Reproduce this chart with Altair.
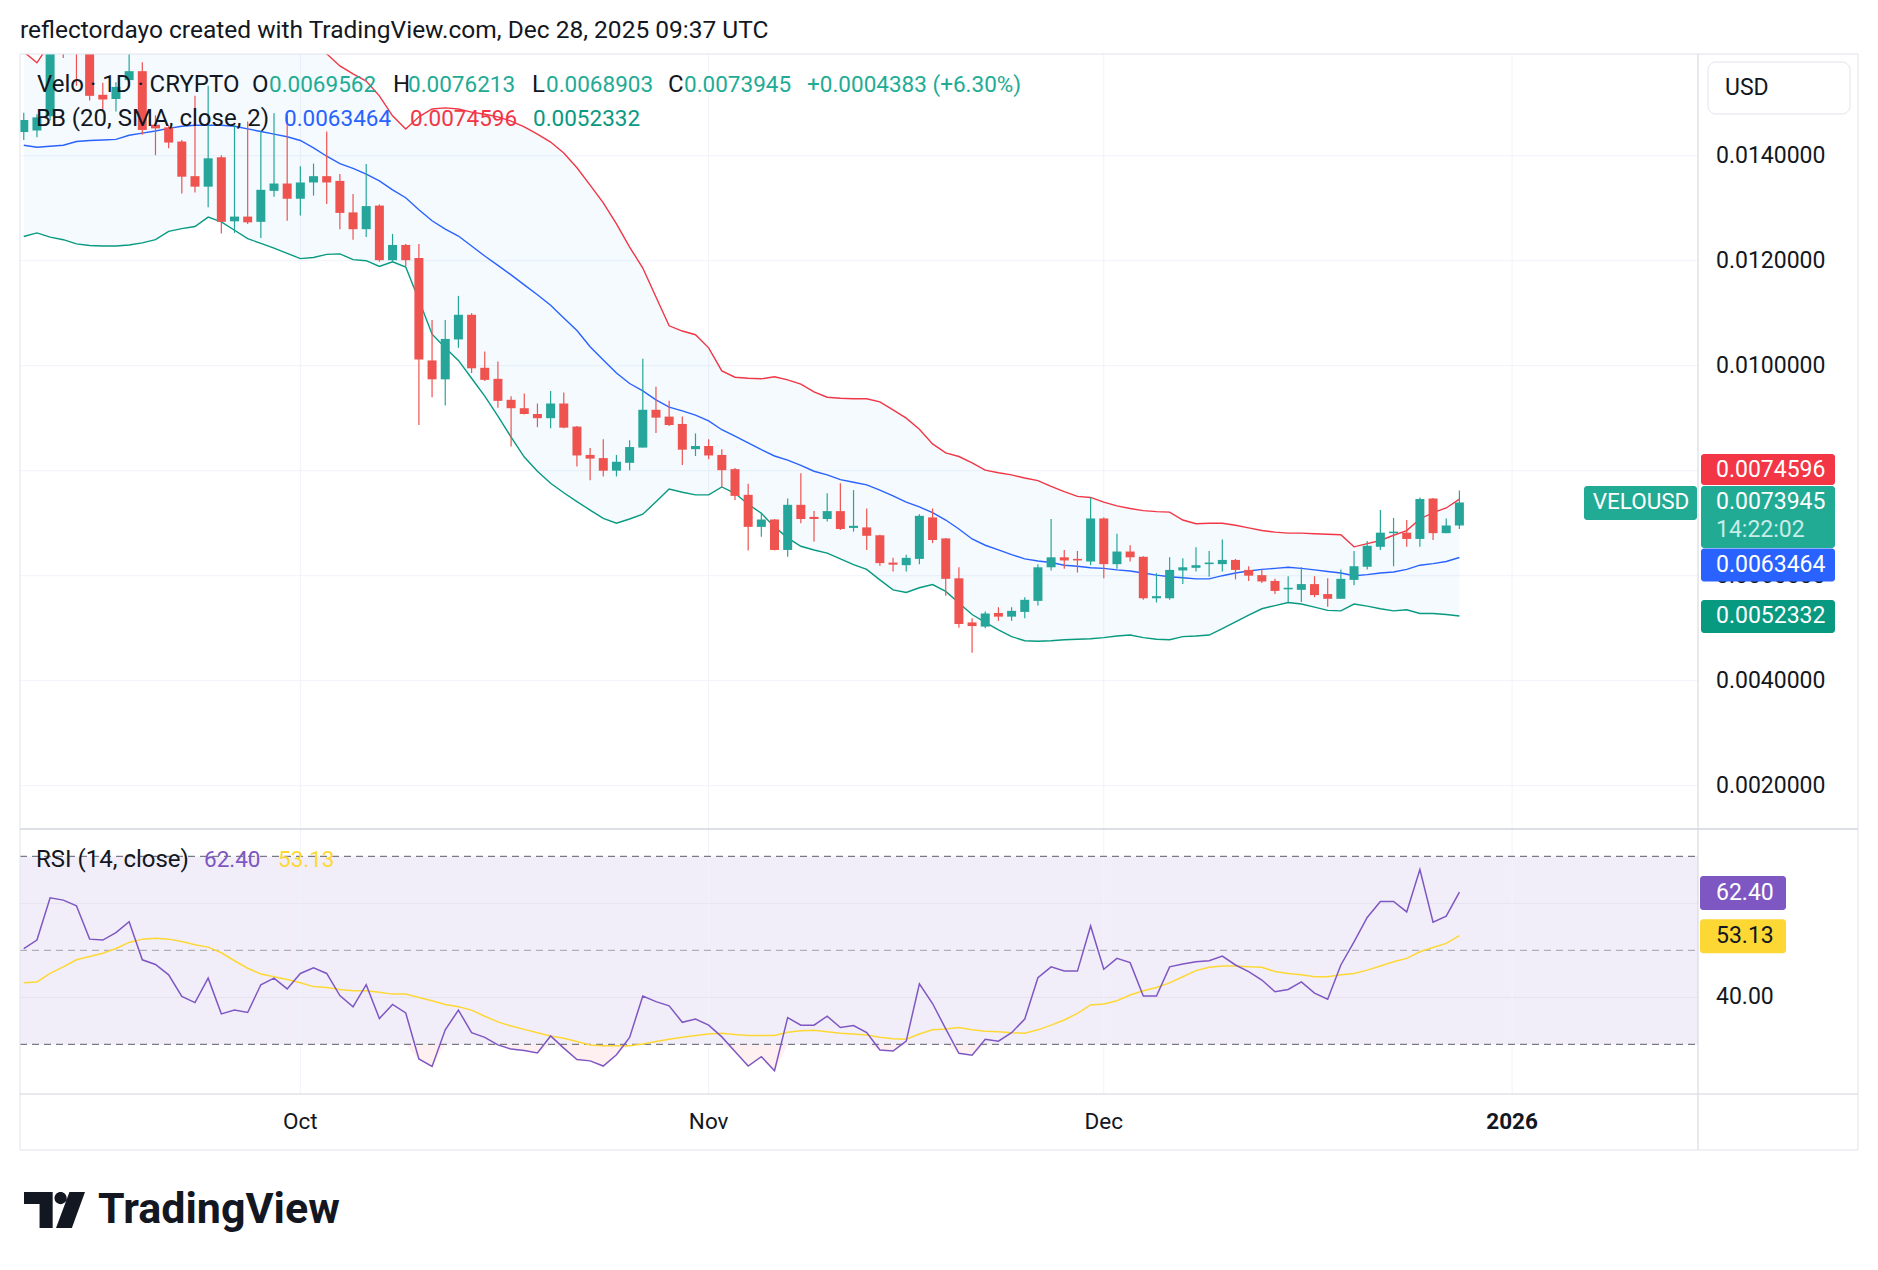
import altair as alt
import pandas as pd

# ---------------- data ----------------
START, END = "2025-09-10", "2025-12-28"

open_ = [0.01445, 0.01448, 0.01475, 0.01648, 0.01622, 0.01600, 0.01516, 0.01508, 0.01544, 0.01561, 0.01459,
         0.01454, 0.01427, 0.01361, 0.01341, 0.01397, 0.01275, 0.01284, 0.01274, 0.01333, 0.01347,
         0.01318, 0.01349, 0.01361, 0.01352, 0.01292, 0.01260, 0.01305, 0.01201, 0.01230, 0.01205, 0.01010,
         0.00974, 0.01050, 0.01097, 0.00996, 0.00975, 0.00935, 0.00919, 0.00908, 0.00900, 0.00928, 0.00884,
         0.00830, 0.00824, 0.00800, 0.00815, 0.00844, 0.00916, 0.00903, 0.00889, 0.00841,
         0.00847, 0.00830, 0.00803, 0.00754, 0.00693, 0.00707, 0.00649, 0.00735, 0.00712, 0.00708, 0.00723,
         0.00691, 0.00692, 0.00677, 0.00625, 0.00620, 0.00632, 0.00711, 0.00671, 0.00595, 0.00511, 0.00503,
         0.00529, 0.00522, 0.00531, 0.00552, 0.00616, 0.00635, 0.00632, 0.00627,
         0.00709, 0.00622, 0.00646, 0.00636, 0.00557, 0.00557, 0.00610, 0.00615, 0.00622, 0.00622, 0.00630,
         0.00611, 0.00601, 0.00590, 0.00574, 0.00573, 0.00584, 0.00565, 0.00556, 0.00592, 0.00617, 0.00655,
         0.00681, 0.00682, 0.00670, 0.00747, 0.00681, 0.0069562]
high = [0.01482, 0.01479, 0.01665, 0.01690, 0.01655, 0.01612, 0.01539, 0.01540, 0.01610, 0.01578, 0.01477,
        0.01457, 0.01430, 0.01514, 0.01533, 0.01401, 0.01458, 0.01465, 0.01446, 0.01481, 0.01478,
        0.01380, 0.01385, 0.01446, 0.01365, 0.01327, 0.01384, 0.01307, 0.01251, 0.01232, 0.01232, 0.01087,
        0.01087, 0.01133, 0.01100, 0.01027, 0.01008, 0.00942, 0.00947, 0.00928, 0.00952, 0.00949, 0.00885,
        0.00843, 0.00860, 0.00830, 0.00858, 0.01013, 0.00960, 0.00933, 0.00903, 0.00871,
        0.00860, 0.00841, 0.00805, 0.00775, 0.00720, 0.00708, 0.00747, 0.00795, 0.00723, 0.00757, 0.00776,
        0.00763, 0.00728, 0.00678, 0.00634, 0.00640, 0.00717, 0.00728, 0.00672, 0.00616, 0.00519, 0.00532,
        0.00540, 0.00540, 0.00559, 0.00622, 0.00708, 0.00649, 0.00647, 0.00749,
        0.00711, 0.00680, 0.00658, 0.00637, 0.00605, 0.00635, 0.00633, 0.00654, 0.00647, 0.00669, 0.00632,
        0.00618, 0.00612, 0.00594, 0.00599, 0.00616, 0.00599, 0.00595, 0.00612, 0.00647, 0.00666, 0.00725,
        0.00710, 0.00706, 0.00749, 0.00748, 0.00709, 0.0076213]
low = [0.01430, 0.01435, 0.01467, 0.01586, 0.01533, 0.01505, 0.01487, 0.01484, 0.01530, 0.01440, 0.01401,
       0.01414, 0.01328, 0.01330, 0.01302, 0.01252, 0.01253, 0.01270, 0.01243, 0.01322, 0.01276,
       0.01286, 0.01324, 0.01308, 0.01260, 0.01240, 0.01245, 0.01198, 0.01198, 0.01189, 0.00887, 0.00940,
       0.00924, 0.01034, 0.00986, 0.00971, 0.00920, 0.00846, 0.00907, 0.00883, 0.00881, 0.00881, 0.00808,
       0.00782, 0.00789, 0.00789, 0.00801, 0.00844, 0.00872, 0.00885, 0.00811, 0.00828,
       0.00822, 0.00768, 0.00744, 0.00648, 0.00674, 0.00648, 0.00636, 0.00700, 0.00665, 0.00703, 0.00687,
       0.00684, 0.00649, 0.00619, 0.00608, 0.00608, 0.00622, 0.00662, 0.00562, 0.00501, 0.00453, 0.00500,
       0.00514, 0.00514, 0.00519, 0.00543, 0.00610, 0.00613, 0.00606, 0.00620,
       0.00595, 0.00613, 0.00627, 0.00554, 0.00549, 0.00554, 0.00584, 0.00608, 0.00598, 0.00608, 0.00593,
       0.00590, 0.00586, 0.00565, 0.00550, 0.00550, 0.00559, 0.00541, 0.00556, 0.00582, 0.00612, 0.00649,
       0.00618, 0.00655, 0.00655, 0.00668, 0.00681, 0.0068903]
close = [0.01468, 0.01473, 0.01648, 0.01622, 0.01600, 0.01514, 0.01507, 0.01531, 0.01561, 0.01449, 0.01452,
         0.01425, 0.01360, 0.01341, 0.01395, 0.01274, 0.01284, 0.01273, 0.01335, 0.01347, 0.01318,
         0.01349, 0.01361, 0.01349, 0.01291, 0.01260, 0.01304, 0.01201, 0.01230, 0.01201, 0.01012, 0.00974,
         0.01051, 0.01097, 0.00995, 0.00973, 0.00933, 0.00919, 0.00908, 0.00900, 0.00928, 0.00882, 0.00829,
         0.00823, 0.00800, 0.00817, 0.00845, 0.00916, 0.00901, 0.00887, 0.00840, 0.00847,
         0.00829, 0.00801, 0.00752, 0.00693, 0.00707, 0.00649, 0.00735, 0.00708, 0.00708, 0.00723, 0.00689,
         0.00695, 0.00676, 0.00624, 0.00621, 0.00634, 0.00714, 0.00668, 0.00594, 0.00508, 0.00504, 0.00528,
         0.00522, 0.00533, 0.00554, 0.00616, 0.00635, 0.00629, 0.00629, 0.00709,
         0.00622, 0.00646, 0.00635, 0.00557, 0.00561, 0.00611, 0.00616, 0.00620, 0.00625, 0.00630, 0.00611,
         0.00600, 0.00589, 0.00571, 0.00577, 0.00584, 0.00563, 0.00556, 0.00594, 0.00618, 0.00657, 0.00682,
         0.00684, 0.00670, 0.00746, 0.00681, 0.0069562, 0.0073945]

bb_upper = [0.01598, 0.01577, 0.01615, 0.01645, 0.01668, 0.01685, 0.01695, 0.01702, 0.01712, 0.01716, 0.01718,
            0.01716, 0.01712, 0.01706, 0.01700, 0.01692, 0.01680, 0.01668, 0.01655, 0.01642, 0.01630,
            0.01618, 0.01606, 0.01594, 0.01571, 0.01556, 0.01542, 0.01514, 0.01476, 0.01451, 0.01474, 0.01489,
            0.01491, 0.01489, 0.01483, 0.01479, 0.01474, 0.01466, 0.01455, 0.01441, 0.01426, 0.01405, 0.01377,
            0.01344, 0.01310, 0.01270, 0.01226, 0.01186, 0.01131, 0.01076, 0.01066, 0.01059,
            0.01034, 0.00990, 0.00978, 0.00976, 0.00975, 0.00979, 0.00973, 0.00965, 0.00950, 0.00940, 0.00938,
            0.00937, 0.00937, 0.00931, 0.00916, 0.00900, 0.00879, 0.00851, 0.00834, 0.00827, 0.00815, 0.00801,
            0.00796, 0.00792, 0.00786, 0.00781, 0.00770, 0.00760, 0.00751, 0.00749,
            0.00740, 0.00733, 0.00728, 0.00724, 0.00722, 0.00721, 0.00706, 0.00699, 0.00700, 0.00700, 0.00696,
            0.00691, 0.00686, 0.00683, 0.00681, 0.00681, 0.00680, 0.00679, 0.00678, 0.00655, 0.00661, 0.00667,
            0.00677, 0.00686, 0.00708, 0.00720, 0.00729, 0.0074596]
bb_basis = [0.01420, 0.01416, 0.01418, 0.01420, 0.01427, 0.01429, 0.01430, 0.01431, 0.01439, 0.01443, 0.01447,
            0.01452, 0.01456, 0.01458, 0.01458, 0.01458, 0.01456, 0.01451, 0.01446, 0.01441, 0.01436,
            0.01429, 0.01415, 0.01399, 0.01385, 0.01376, 0.01365, 0.01352, 0.01335, 0.01320, 0.01297, 0.01276,
            0.01260, 0.01247, 0.01228, 0.01209, 0.01191, 0.01173, 0.01154, 0.01135, 0.01115, 0.01091, 0.01067,
            0.01036, 0.01011, 0.00986, 0.00966, 0.00952, 0.00935, 0.00921, 0.00914, 0.00906,
            0.00895, 0.00878, 0.00866, 0.00853, 0.00840, 0.00828, 0.00820, 0.00810, 0.00799, 0.00792, 0.00783,
            0.00778, 0.00773, 0.00763, 0.00752, 0.00740, 0.00731, 0.00720, 0.00706, 0.00689, 0.00670, 0.00658,
            0.00649, 0.00640, 0.00632, 0.00628, 0.00625, 0.00620, 0.00618, 0.00615,
            0.00614, 0.00611, 0.00609, 0.00605, 0.00601, 0.00598, 0.00596, 0.00594, 0.00594, 0.00600, 0.00605,
            0.00609, 0.00612, 0.00614, 0.00616, 0.00614, 0.00611, 0.00608, 0.00605, 0.00600, 0.00602, 0.00605,
            0.00607, 0.00612, 0.00620, 0.00623, 0.00627, 0.0063464]
bb_lower = [0.01246, 0.01253, 0.01245, 0.01240, 0.01232, 0.01229, 0.01228, 0.01228, 0.01230, 0.01234, 0.01240,
            0.01256, 0.01261, 0.01265, 0.01283, 0.01274, 0.01258, 0.01242, 0.01233, 0.01224, 0.01214,
            0.01204, 0.01206, 0.01212, 0.01213, 0.01202, 0.01200, 0.01189, 0.01198, 0.01188, 0.01125, 0.01060,
            0.01034, 0.01010, 0.00976, 0.00942, 0.00904, 0.00864, 0.00826, 0.00799, 0.00776, 0.00758, 0.00741,
            0.00725, 0.00709, 0.00700, 0.00708, 0.00717, 0.00741, 0.00765, 0.00759, 0.00754,
            0.00754, 0.00769, 0.00757, 0.00736, 0.00719, 0.00693, 0.00672, 0.00656, 0.00649, 0.00643, 0.00632,
            0.00621, 0.00612, 0.00592, 0.00573, 0.00568, 0.00577, 0.00583, 0.00570, 0.00548, 0.00526, 0.00511,
            0.00497, 0.00484, 0.00476, 0.00475, 0.00476, 0.00478, 0.00479, 0.00480,
            0.00482, 0.00485, 0.00487, 0.00482, 0.00479, 0.00478, 0.00484, 0.00485, 0.00487, 0.00499, 0.00512,
            0.00525, 0.00537, 0.00543, 0.00549, 0.00546, 0.00540, 0.00534, 0.00533, 0.00546, 0.00542, 0.00537,
            0.00533, 0.00535, 0.00528, 0.00528, 0.00526, 0.0052332]

rsi = [50.4, 52.2, 61.2, 60.7, 59.5, 52.4, 52.2, 53.8, 56.1, 48.0, 47.0, 44.8, 40.2, 38.9, 44.1, 36.5, 37.3,
       36.8, 42.7, 44.1, 41.8,
       45.1, 46.3, 45.1, 40.4, 38.0, 42.7, 35.5, 38.5, 36.7, 26.9, 25.3, 33.1, 37.3, 32.5, 31.5, 29.9, 29.0,
       28.7, 28.2, 31.8, 29.2, 26.8, 26.5, 25.4, 27.8, 31.5, 40.3, 39.1, 38.2, 34.7, 35.4,
       34.1, 31.6, 28.5, 25.4, 27.4, 24.4, 35.7, 34.1, 34.1, 36.0, 33.6, 34.0, 32.5, 28.8, 28.6, 30.7, 42.9,
       38.7, 33.3, 28.1, 27.7, 31.1, 30.7, 32.5, 35.4, 44.2, 46.5, 45.6, 45.6, 55.2,
       46.0, 48.3, 47.4, 40.3, 40.3, 46.5, 47.1, 47.6, 47.8, 48.8, 46.9, 45.5, 43.7, 41.2, 41.7, 43.3, 40.9,
       39.6, 46.9, 51.8, 57.0, 60.4, 60.4, 58.2, 67.2, 56.0, 57.3, 62.40]
rsi_ma = [43.1, 43.3, 45.1, 46.5, 48.0, 48.7, 49.4, 50.4, 51.7, 52.4, 52.6, 52.4, 51.9, 51.2, 50.7, 49.5, 47.8,
          46.2, 45.0, 44.4, 43.8,
          43.1, 42.3, 42.1, 41.7, 41.4, 41.4, 41.1, 40.7, 40.7, 40.0, 39.3, 38.5, 38.0, 37.3, 36.0, 34.8, 33.9,
          33.2, 32.5, 31.8, 31.3, 30.6, 29.9, 29.7, 29.7, 29.7, 30.1, 30.6, 31.1, 31.5, 31.9,
          32.2, 32.4, 32.1, 31.9, 31.9, 31.9, 32.6, 32.9, 33.0, 32.7, 32.4, 32.2, 32.0, 31.5, 31.2, 31.1, 32.2,
          33.1, 33.3, 33.6, 33.1, 32.8, 32.7, 32.5, 32.4, 33.1, 34.1, 35.2, 36.6, 38.4,
          38.6, 39.3, 40.5, 41.4, 42.1, 43.1, 44.4, 45.7, 46.4, 46.7, 46.7, 46.5, 46.4, 45.5, 45.1, 44.8, 44.4,
          44.4, 44.8, 45.1, 45.8, 46.7, 47.6, 48.3, 49.7, 50.6, 51.5, 53.13]

price_ticks = [0.002, 0.004, 0.006, 0.008, 0.010, 0.012, 0.014]
rsi_ticks = [40, 60]
rsi_levels = [70, 30]
rsi_mid = [50]
month_starts = ["2025-10-01", "2025-11-01", "2025-12-01"]
month_labels = ["Oct", "Nov", "Dec"]
year_start = ["2026-01-01"]
year_labels = ["2026"]

dates = pd.date_range(START, END, freq="D").strftime("%Y-%m-%d").tolist()
n = len(dates)
for arr in (open_, high, low, close, bb_upper, bb_basis, bb_lower, rsi, rsi_ma):
    assert len(arr) == n, (len(arr), n)

df = pd.DataFrame({"date": dates, "open": open_, "high": high, "low": low, "close": close,
                   "upper": bb_upper, "basis": bb_basis, "lower": bb_lower,
                   "rsi": rsi, "ma": rsi_ma})
df["dir"] = ["up" if c >= o else "down" for o, c in zip(open_, close)]

# ---------------- layout ----------------
W, H = 1678, 1040
PANE = 775
FONT = "Roboto"
INK = "#131722"
UP, DOWN = "#26a69a", "#ef5350"
BLUE, RED, TEAL = "#2962ff", "#f23645", "#089981"
PURPLE, YELLOW = "#7e57c2", "#fdd835"
AX = 23          # price-scale label size
LBL = 24         # legend label size
NUM = 22.5       # legend number size

XS = alt.Scale(type="utc", nice=False,
               domain=[alt.DateTime(year=2025, month=9, date=10, hours=2, minutes=15, utc=True),
                       alt.DateTime(year=2026, month=1, date=14, hours=17, minutes=40, utc=True)])
PY = alt.Scale(domain=[0.001175, 0.015937], range=[PANE, 0], nice=False, zero=False)
RY = alt.Scale(domain=[19.45, 75.83], range=[H, PANE], nice=False, zero=False)
X = alt.X("date:T", scale=XS, axis=None)
COL = alt.Color("dir:N", scale=alt.Scale(domain=["up", "down"], range=[UP, DOWN]), legend=None)
ONE = pd.DataFrame({"a": [0]})
base = alt.Chart(df)


def py(field):
    return alt.Y(field, type="quantitative", scale=PY, axis=None)


def ry(field):
    return alt.Y(field, type="quantitative", scale=RY, axis=None)


def txt(s, x, y, color=INK, size=LBL, weight="normal", align="left", baseline="middle"):
    return alt.Chart(ONE).mark_text(text=s, align=align, baseline=baseline, fontSize=size,
                                    fontWeight=weight, color=color, font=FONT).encode(
        x=alt.value(x), y=alt.value(y))


def rule(x1, y1, x2, y2, color="#e0e3eb", w=1):
    return alt.Chart(ONE).mark_rule(color=color, strokeWidth=w).encode(
        x=alt.value(x1), y=alt.value(y1), x2=alt.value(x2), y2=alt.value(y2))


def vbox(value, scale, color, top, bottom, x0=W + 3, x1=W + 137):
    return alt.Chart(pd.DataFrame({"v": [value]})).mark_rect(
        color=color, cornerRadius=3, yOffset=top, y2Offset=bottom).encode(
        x=alt.value(x0), x2=alt.value(x1),
        y=alt.Y("v:Q", scale=scale, axis=None), y2="v")


def vtext(value, scale, fmt, color="white", dy=0, x=W + 18, text=None, align="left", size=AX):
    ch = alt.Chart(pd.DataFrame({"v": [value]}))
    if text is None:
        return ch.mark_text(align=align, baseline="middle", fontSize=size, color=color, font=FONT, dy=dy).encode(
            x=alt.value(x), y=alt.Y("v:Q", scale=scale, axis=None), text=alt.Text("v:Q", format=fmt))
    return ch.mark_text(text=text, align=align, baseline="middle", fontSize=size, color=color, font=FONT,
                        dy=dy).encode(x=alt.value(x), y=alt.Y("v:Q", scale=scale, axis=None))


layers = []

# RSI background band
layers.append(alt.Chart(pd.DataFrame({"top": [rsi_levels[0]], "bot": [rsi_levels[1]]})).mark_rect(
    color=PURPLE, opacity=0.1).encode(x=alt.value(0), x2=alt.value(W), y=ry("top"), y2="bot"))

# grids
layers.append(alt.Chart(pd.DataFrame({"v": price_ticks})).mark_rule(color="#f0f3fa", strokeWidth=1).encode(
    x=alt.value(0), x2=alt.value(W), y=py("v")))
layers.append(alt.Chart(pd.DataFrame({"v": rsi_ticks})).mark_rule(color="#e6e3ee", strokeWidth=1).encode(
    x=alt.value(0), x2=alt.value(W), y=ry("v")))
layers.append(alt.Chart(pd.DataFrame({"d": month_starts + year_start})).mark_rule(
    color="#f0f3fa", strokeWidth=1).encode(x=alt.X("d:T", scale=XS, axis=None), y=alt.value(0), y2=alt.value(H)))
layers.append(alt.Chart(pd.DataFrame({"v": rsi_levels})).mark_rule(
    color="#787b86", strokeWidth=1.2, strokeDash=[7, 5]).encode(x=alt.value(0), x2=alt.value(W), y=ry("v")))
layers.append(alt.Chart(pd.DataFrame({"v": rsi_mid})).mark_rule(
    color="#787b86", opacity=0.55, strokeWidth=1.2, strokeDash=[7, 5]).encode(x=alt.value(0), x2=alt.value(W),
                                                                              y=ry("v")))

# Bollinger band
layers.append(base.mark_area(color="#2196f3", opacity=0.05, clip=True).encode(x=X, y=py("upper"), y2="lower"))
for field, color in (("upper", RED), ("basis", BLUE), ("lower", TEAL)):
    layers.append(base.mark_line(color=color, strokeWidth=1.4, clip=True).encode(x=X, y=py(field)))

# candles
layers.append(base.mark_rule(strokeWidth=1.2, clip=True).encode(x=X, y=py("low"), y2="high", color=COL))
layers.append(base.mark_bar(size=9, clip=True).encode(x=X, y=py("open"), y2="close", color=COL))

# RSI
layers.append(base.transform_calculate(r30="min(datum.rsi, 30)", t30="30").mark_area(
    color=RED, opacity=0.08, clip=True).encode(x=X, y=ry("r30"), y2="t30"))
layers.append(base.mark_line(color=YELLOW, strokeWidth=1.5, clip=True).encode(x=X, y=ry("ma")))
layers.append(base.mark_line(color=PURPLE, strokeWidth=1.5, clip=True).encode(x=X, y=ry("rsi")))

# frame
R = W + 160
layers += [
    rule(0, 0, R, 0), rule(0, 0, 0, H + 56), rule(R, 0, R, H + 56), rule(0, H + 56, R, H + 56),
    rule(W, 0, W, H + 56, "#d1d4dc"), rule(0, PANE, R, PANE, "#d1d4dc", 1.5), rule(0, H, R, H, "#d1d4dc"),
]

# axes labels
layers.append(alt.Chart(pd.DataFrame({"v": price_ticks})).mark_text(
    align="left", baseline="middle", fontSize=AX, color=INK, font=FONT).encode(
    x=alt.value(W + 18), y=py("v"), text=alt.Text("v:Q", format=".7f")))
layers.append(alt.Chart(pd.DataFrame({"v": rsi_ticks})).mark_text(
    align="left", baseline="middle", fontSize=AX, color=INK, font=FONT).encode(
    x=alt.value(W + 18), y=ry("v"), text=alt.Text("v:Q", format=".2f")))
layers.append(alt.Chart(pd.DataFrame({"d": month_starts, "t": month_labels})).mark_text(
    align="center", baseline="middle", fontSize=22.5, color=INK, font=FONT).encode(
    x=alt.X("d:T", scale=XS, axis=None), y=alt.value(H + 28), text="t:N"))
layers.append(alt.Chart(pd.DataFrame({"d": year_start, "t": year_labels})).mark_text(
    align="center", baseline="middle", fontSize=22.5, fontWeight="bold", color=INK, font=FONT).encode(
    x=alt.X("d:T", scale=XS, axis=None), y=alt.value(H + 28), text="t:N"))

# value boxes on the price scale
last_c, last_u, last_b, last_l = close[-1], bb_upper[-1], bb_basis[-1], bb_lower[-1]
layers += [
    vbox(last_u, PY, RED, -45, -14), vtext(last_u, PY, ".7f", dy=-29),
    vbox(last_c, PY, "#22ab94", -16.5, 45.5), vtext(last_c, PY, ".7f"),
    vtext(last_c, PY, None, color="#c8ece6", dy=28, text="14:22:02"),
    vbox(last_b, PY, BLUE, -9, 24), vtext(last_b, PY, ".7f", dy=7.5),
    vbox(last_l, PY, TEAL, -16, 17), vtext(last_l, PY, ".7f", dy=0.5),
    vbox(last_c, PY, "#22ab94", -16.5, 17.5, x0=W - 114, x1=W - 1),
    vtext(last_c, PY, None, text="VELOUSD", x=W - 57, align="center", size=22.5),
    vbox(rsi[-1], RY, PURPLE, -16, 18, x0=W + 2, x1=W + 88), vtext(rsi[-1], RY, ".2f", dy=1),
    vbox(rsi_ma[-1], RY, YELLOW, -16.5, 17.5, x0=W + 2, x1=W + 88),
    vtext(rsi_ma[-1], RY, ".2f", color=INK, dy=0.5),
]

# USD button
layers.append(alt.Chart(ONE).mark_rect(fill="white", stroke="#e0e3eb", strokeWidth=1, cornerRadius=8).encode(
    x=alt.value(W + 10), x2=alt.value(W + 152), y=alt.value(8), y2=alt.value(60)))
layers.append(txt("USD", W + 27, 34, size=23))

# legends
chg = close[-1] - close[-2]
pct = chg / close[-2] * 100
VAL = "#22ab94"
layers += [
    txt("reflectordayo created with TradingView.com, Dec 28, 2025 09:37 UTC", 0, -23, size=24.5),
    txt("Velo · 1D · CRYPTO", 17, 31),
    txt("O", 232, 31), txt(f"{open_[-1]:.7f}", 249, 31, VAL, size=NUM),
    txt("H", 373, 31), txt(f"{high[-1]:.7f}", 388, 31, VAL, size=NUM),
    txt("L", 512, 31), txt(f"{low[-1]:.7f}", 526, 31, VAL, size=NUM),
    txt("C", 648, 31), txt(f"{close[-1]:.7f}", 664, 31, VAL, size=NUM),
    txt(f"+{chg:.7f} (+{pct:.2f}%)", 787, 31, VAL, size=NUM),
    txt("BB (20, SMA, close, 2)", 16, 65),
    txt(f"{bb_basis[-1]:.7f}", 264, 65, BLUE, size=NUM), txt(f"{bb_upper[-1]:.7f}", 390, 65, RED, size=NUM),
    txt(f"{bb_lower[-1]:.7f}", 513, 65, TEAL, size=NUM),
    txt("RSI (14, close)", 16, 806),
    txt(f"{rsi[-1]:.2f}", 184, 806, PURPLE, size=NUM), txt(f"{rsi_ma[-1]:.2f}", 258, 806, YELLOW, size=NUM),
]

# TradingView logo
LOGO = ("M-1,-0.59 L-0.06,-0.59 L-0.06,0.59 L-0.49,0.59 L-0.49,-0.2 L-1,-0.2 Z "
        "M0.05,0.59 L0.57,0.59 L1,-0.59 L0.49,-0.59 Z "
        "M0.40,-0.39 A0.2,0.2 0 1,1 0.0,-0.39 A0.2,0.2 0 1,1 0.40,-0.39 Z")
layers.append(alt.Chart(ONE).mark_point(shape=LOGO, size=3721, filled=True, color=INK, opacity=1,
                                        strokeWidth=0).encode(x=alt.value(34.5), y=alt.value(1156)))
layers.append(txt("TradingView", 78, 1169, size=43, weight="bold", baseline="alphabetic"))

chart = alt.layer(*layers).resolve_scale(y="independent").properties(
    width=W, height=H,
    autosize=alt.AutoSizeParams(type="none"),
    padding={"left": 20, "top": 54, "right": 180, "bottom": 176},
    background="white",
).configure_view(strokeWidth=0)

chart.save("out.html", embed_options={"renderer": "svg", "actions": False})
